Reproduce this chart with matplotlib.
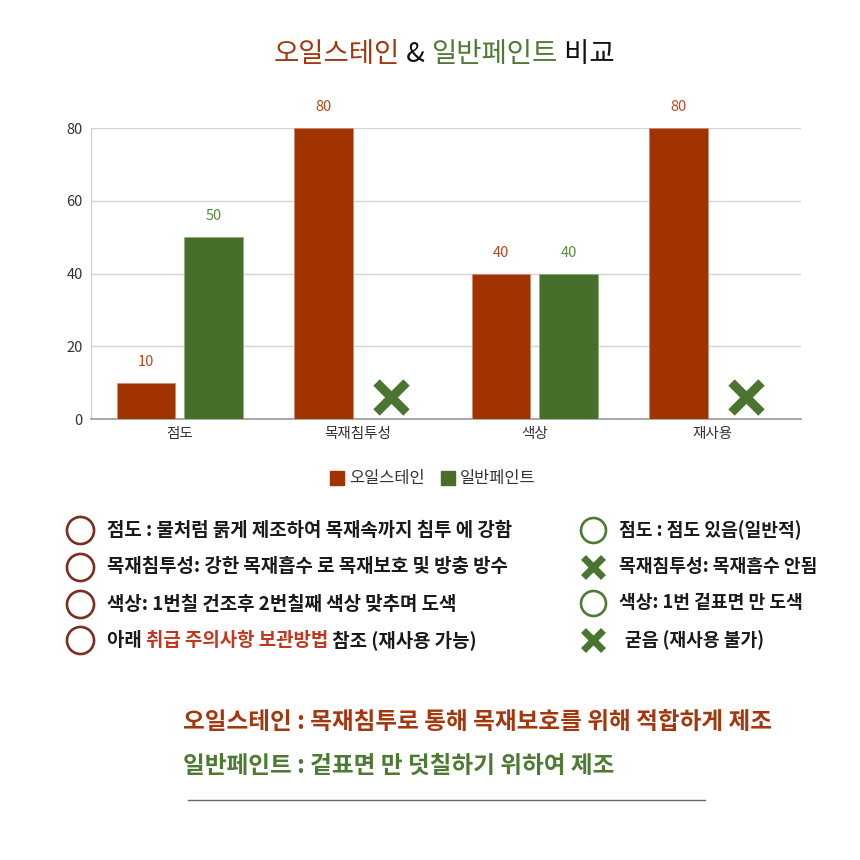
import matplotlib
matplotlib.use('Agg')
import matplotlib.pyplot as plt
from matplotlib.lines import Line2D
import numpy as np

plt.rcParams['font.family'] = ['Noto Sans CJK KR', 'DejaVu Sans']

# ========================== DATA ==========================
categories = ['점도', '목재침투성', '색상', '재사용']
oil_values = [10, 80, 40, 80]
paint_values = [50, None, 40, None]   # None -> drawn as X mark
x_mark_level = 6
series_names = ['오일스테인', '일반페인트']
y_ticks = [0, 20, 40, 60, 80]

title_parts = [('오일스테인', 'oil'), (' & ', 'black'), ('일반페인트', 'paint'), (' 비교', 'black')]

left_items = [
    [('점도 : 물처럼 묽게 제조하여 목재속까지 침투 에 강함', 'text')],
    [('목재침투성: 강한 목재흡수 로 목재보호 및 방충 방수', 'text')],
    [('색상: 1번칠 건조후 2번칠째 색상 맞추며 도색', 'text')],
    [('아래 ', 'text'), ('취급 주의사항 보관방법', 'red'), (' 참조 (재사용 가능)', 'text')],
]
right_items = [
    ('o', '점도 : 점도 있음(일반적)'),
    ('x', '목재침투성: 목재흡수 안됨'),
    ('o', '색상: 1번 겉표면 만 도색'),
    ('x', '굳음 (재사용 불가)'),
]
summary_lines = [
    ('오일스테인 : 목재침투로 통해 목재보호를 위해 적합하게 제조', 'oil'),
    ('일반페인트 : 겉표면 만 덧칠하기 위하여 제조', 'paint'),
]

# ========================== STYLE ==========================
OIL = '#A03300'
PAINT = '#476E2B'
OIL_LABEL = '#B8491C'
PAINT_LABEL = '#5A8A3A'
COLORS = {'oil': '#A3380F', 'paint': '#4E7A33', 'black': '#111111',
          'text': '#1a1a1a', 'red': '#C0391E'}
BAR_W = 0.33
OFFSET = 0.19
LEFT_SIZE = 13.6
RIGHT_SIZE = 13.1
X_GREEN = '#4A7430'

W, H = 860, 860
fig = plt.figure(figsize=(8.6, 8.6), dpi=100)


def fx(px):
    return px / W


def fy(py):
    return 1 - py / H


ax = fig.add_axes([fx(91), fy(419), fx(801) - fx(91), fy(128) - fy(419)])

x = np.arange(len(categories))
ax.bar(x - OFFSET, oil_values, BAR_W, color=OIL, edgecolor='#d08a70', linewidth=0.6, zorder=3)
for xi, v in zip(x, oil_values):
    ax.text(xi - OFFSET, v + 3.8, str(v), ha='center', va='bottom', color=OIL_LABEL, fontsize=10.5)

for xi, v in zip(x, paint_values):
    if v is None:
        ax.plot(xi + OFFSET, x_mark_level, marker='x', markersize=21, markeredgewidth=6.5,
                color=X_GREEN, zorder=4, clip_on=False)
    else:
        ax.bar(xi + OFFSET, v, BAR_W, color=PAINT, edgecolor='#8fae7a', linewidth=0.6, zorder=3)
        ax.text(xi + OFFSET, v + 3.8, str(v), ha='center', va='bottom', color=PAINT_LABEL, fontsize=10.5)

ax.set_xlim(-0.5, len(categories) - 0.5)
ax.set_ylim(0, 80)
ax.set_yticks(y_ticks)
ax.set_xticks(x)
ax.set_xticklabels(categories)
ax.tick_params(axis='both', length=0, labelsize=10.5, colors='#333333', pad=6)
ax.tick_params(axis='y', pad=6)
ax.grid(axis='y', color='#d6d6d6', linewidth=1, zorder=0)
for s in ['top', 'right']:
    ax.spines[s].set_visible(False)
ax.spines['left'].set_color('#cccccc')
ax.spines['bottom'].set_color('#999999')
ax.spines['bottom'].set_linewidth(1.2)

# legend
handles = [Line2D([], [], marker='s', linestyle='', markersize=10.5, color=OIL),
           Line2D([], [], marker='s', linestyle='', markersize=10.5, color=PAINT)]
fig.legend(handles, series_names, loc='center', bbox_to_anchor=(fx(432), fy(479)),
           ncol=2, frameon=False, fontsize=11.8, handletextpad=0.25, handlelength=1.0,
           columnspacing=0.9, labelcolor='#333333')

renderer = fig.canvas.get_renderer()


def draw_parts(parts, x0, y0, size, weight):
    # draw colored text pieces one after another
    cur = x0
    for txt, key in parts:
        t = fig.text(cur, y0, txt, color=COLORS[key], fontsize=size, fontweight=weight,
                     ha='left', va='center')
        bb = t.get_window_extent(renderer)
        cur += bb.width / W


# title
draw_parts(title_parts, fx(274), fy(54), 19.8, 'medium')

# left list
left_y = [530, 567, 604, 640]
for py, parts in zip(left_y, left_items):
    fig.add_artist(Line2D([fx(80)], [fy(py)], marker='o', markersize=19.5, markerfacecolor='none',
                          markeredgecolor='#7A2E1F', markeredgewidth=1.9, transform=fig.transFigure))
    draw_parts(parts, fx(107), fy(py), LEFT_SIZE, 'bold')

# right list
right_y = [530, 567, 603, 640]
for py, (kind, txt) in zip(right_y, right_items):
    if kind == 'o':
        fig.add_artist(Line2D([fx(593)], [fy(py)], marker='o', markersize=18, markerfacecolor='none',
                              markeredgecolor='#4E7A33', markeredgewidth=1.9, transform=fig.transFigure))
    else:
        fig.add_artist(Line2D([fx(593)], [fy(py)], marker='x', markersize=14, markeredgewidth=5,
                              color=X_GREEN, transform=fig.transFigure))
    xoff = 625 if txt.startswith('굳음') else 619
    fig.text(fx(xoff), fy(py), txt, fontsize=RIGHT_SIZE, fontweight='bold', color=COLORS['text'],
             ha='left', va='center')

# summary lines
for py, (txt, key) in zip([722, 766], summary_lines):
    fig.text(fx(183), fy(py), txt, fontsize=17, fontweight='bold', color=COLORS[key],
             ha='left', va='center')

fig.add_artist(Line2D([fx(188), fx(705)], [fy(800), fy(800)], color='#666666', linewidth=1,
                      transform=fig.transFigure))

fig.savefig('out.png', dpi=100, facecolor='white')
